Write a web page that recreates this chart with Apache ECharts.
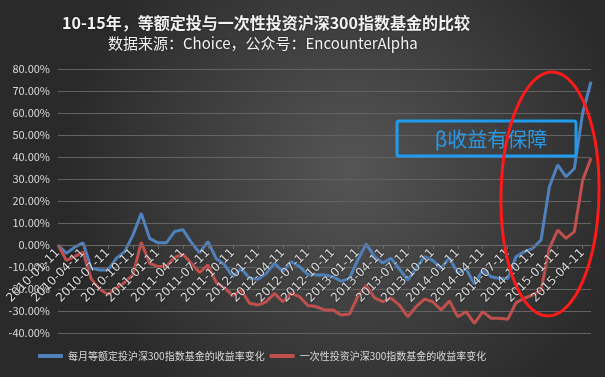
<!DOCTYPE html>
<html>
<head>
<meta charset="utf-8">
<script src="https://cdn.jsdelivr.net/npm/echarts@6/dist/echarts.min.js"></script>
<style>
  html, body { margin: 0; padding: 0; background: #333; }
  #main { width: 605px; height: 377px; }
</style>
</head>
<body>
<div id="main"></div>
<script>
// monthly dates 2010-01-11 .. 2015-05-11
let months = [];
for (let y = 2010; y <= 2015; y++) {
  for (let m = 1; m <= 12; m++) {
    if (y === 2015 && m > 5) break;
    months.push(y + "-" + (m < 10 ? "0" + m : m) + "-11");
  }
}

let seriesNames = ["每月等额定投沪深300指数基金的收益率变化", "一次性投资沪深300指数基金的收益率变化"];

// 收益率 (%)
let dingTou = [
  0, -3.8, -1.0, 1.0, -10.5, -11.4, -11.4, -6.1, -3.0, 4.5,
  14.4, 3.0, 1.0, 1.0, 6.1, 7.0, 1.2, -3.5, 1.5, -6.2,
  -9.0, -14.4, -10.6, -15.2, -15.6, -12.9, -8.3, -12.1, -7.6, -9.8,
  -13.4, -13.6, -13.6, -14.4, -16.5, -15.2, -6.8, 0.5, -5.3, -8.2,
  -6.1, -11.0, -15.9, -10.6, -5.3, -7.0, -10.6, -5.8, -12.8, -10.8,
  -17.8, -11.4, -14.4, -15.2, -15.2, -5.3, -3.0, -1.5, 2.3, 26.5,
  36.4, 31.0, 34.8, 60.0, 74.2
];
let yiCiXing = [
  0, -7.0, -5.3, -3.2, -15.5, -20.0, -22.5, -19.5, -17.0, -13.6,
  1.2, -8.3, -9.8, -9.8, -5.7, -4.2, -8.3, -12.5, -9.0, -17.0,
  -19.5, -23.0, -20.5, -26.5, -27.3, -25.8, -22.0, -25.8, -22.0, -23.5,
  -27.5, -28.0, -29.5, -29.5, -31.8, -31.4, -23.5, -18.2, -24.0, -25.8,
  -24.2, -27.3, -32.6, -28.0, -24.6, -25.8, -29.5, -25.4, -32.6, -30.3,
  -35.6, -30.3, -33.3, -33.3, -33.8, -26.2, -24.2, -22.7, -20.5, -1.5,
  6.8, 3.0, 6.1, 29.5, 39.4
];

let yMin = -40, yMax = 80;
let gridTop = 69, gridBottom = 44;
// x axis sits on the 0% line
let gridH = 377 - gridTop - gridBottom;
let xOffset = -gridH * (0 - yMin) / (yMax - yMin);

let chart = echarts.init(document.getElementById("main"));
let font = "'Noto Sans CJK SC', 'Noto Sans', sans-serif";
let labelColor = "#d9d9d9";

chart.setOption({
  backgroundColor: {
    type: "radial",
    x: 0.58,
    y: 0.45,
    r: 0.75,
    colorStops: [
      { offset: 0, color: "#555555" },
      { offset: 1, color: "#2a2a2a" },
    ],
  },
  textStyle: { fontFamily: font },
  title: [
    {
      text: "10-15年，等额定投与一次性投资沪深300指数基金的比较",
      left: 57,
      top: 10,
      textStyle: {
        color: "#f2f2f2",
        fontSize: 16,
        fontWeight: "bold",
        fontFamily: font,
        textShadowColor: "rgba(0,0,0,0.6)",
        textShadowBlur: 2,
      },
    },
    {
      text: "数据来源：Choice，公众号：EncounterAlpha",
      left: 103,
      top: 31,
      textStyle: {
        color: "#f2f2f2",
        fontSize: 15,
        fontWeight: "normal",
        fontFamily: font,
        textShadowColor: "rgba(0,0,0,0.6)",
        textShadowBlur: 2,
      },
    },
  ],
  legend: {
    data: seriesNames,
    bottom: 11,
    left: 33,
    itemGap: 5,
    itemWidth: 25,
    itemHeight: 4,
    icon: "roundRect",
    textStyle: { color: labelColor, fontSize: 10, fontFamily: font },
  },
  grid: { left: 58, right: 14, top: gridTop, bottom: gridBottom, outerBoundsMode: "none", containLabel: false },
  xAxis: {
    type: "category",
    data: months,
    boundaryGap: false,
    offset: xOffset,
    z: 5,
    axisLine: { onZero: false, lineStyle: { color: "#6a6a6a", width: 1 } },
    axisTick: { show: true, interval: 2, length: 4, lineStyle: { color: "#6a6a6a" } },
    axisLabel: {
      interval: 2,
      rotate: 45,
      color: labelColor,
      fontSize: 12,
      fontFamily: "'DejaVu Sans', sans-serif",
      margin: 6,
      textShadowColor: "rgba(0,0,0,0.8)",
      textShadowBlur: 2,
    },
    splitLine: { show: false },
  },
  yAxis: {
    type: "value",
    min: yMin,
    max: yMax,
    interval: 10,
    axisLine: { show: false },
    axisTick: { show: false },
    axisLabel: {
      color: labelColor,
      fontSize: 11,
      margin: 8,
      formatter: function (v) {
        return v.toFixed(2) + "%";
      },
    },
    splitLine: { lineStyle: { color: "#636363", width: 1 } },
  },
  series: [
    {
      name: seriesNames[0],
      type: "line",
      data: dingTou,
      showSymbol: false,
      symbol: "none",
      color: "#4f81bd",
      lineStyle: { width: 3, color: "#4f81bd" },
    },
    {
      name: seriesNames[1],
      type: "line",
      data: yiCiXing,
      showSymbol: false,
      symbol: "none",
      color: "#c0504d",
      lineStyle: { width: 3, color: "#c0504d" },
    },
  ],
  graphic: [
    {
      type: "rect",
      shape: { x: 397, y: 121, width: 179, height: 35, r: 2 },
      style: { fill: "none", stroke: "#1f9bef", lineWidth: 3 },
      z: 100,
    },
    {
      type: "text",
      x: 491,
      y: 139,
      style: {
        text: "β收益有保障",
        fill: "#2899e6",
        fontSize: 20,
        fontFamily: font,
        align: "center",
        verticalAlign: "middle",
      },
      z: 100,
    },
    {
      type: "ellipse",
      shape: { cx: 550, cy: 194, rx: 49, ry: 122 },
      rotation: -0.02,
      originX: 550,
      originY: 194,
      style: { fill: "none", stroke: "#ff1a1a", lineWidth: 3 },
      z: 100,
    },
  ],
});
</script>
</body>
</html>
